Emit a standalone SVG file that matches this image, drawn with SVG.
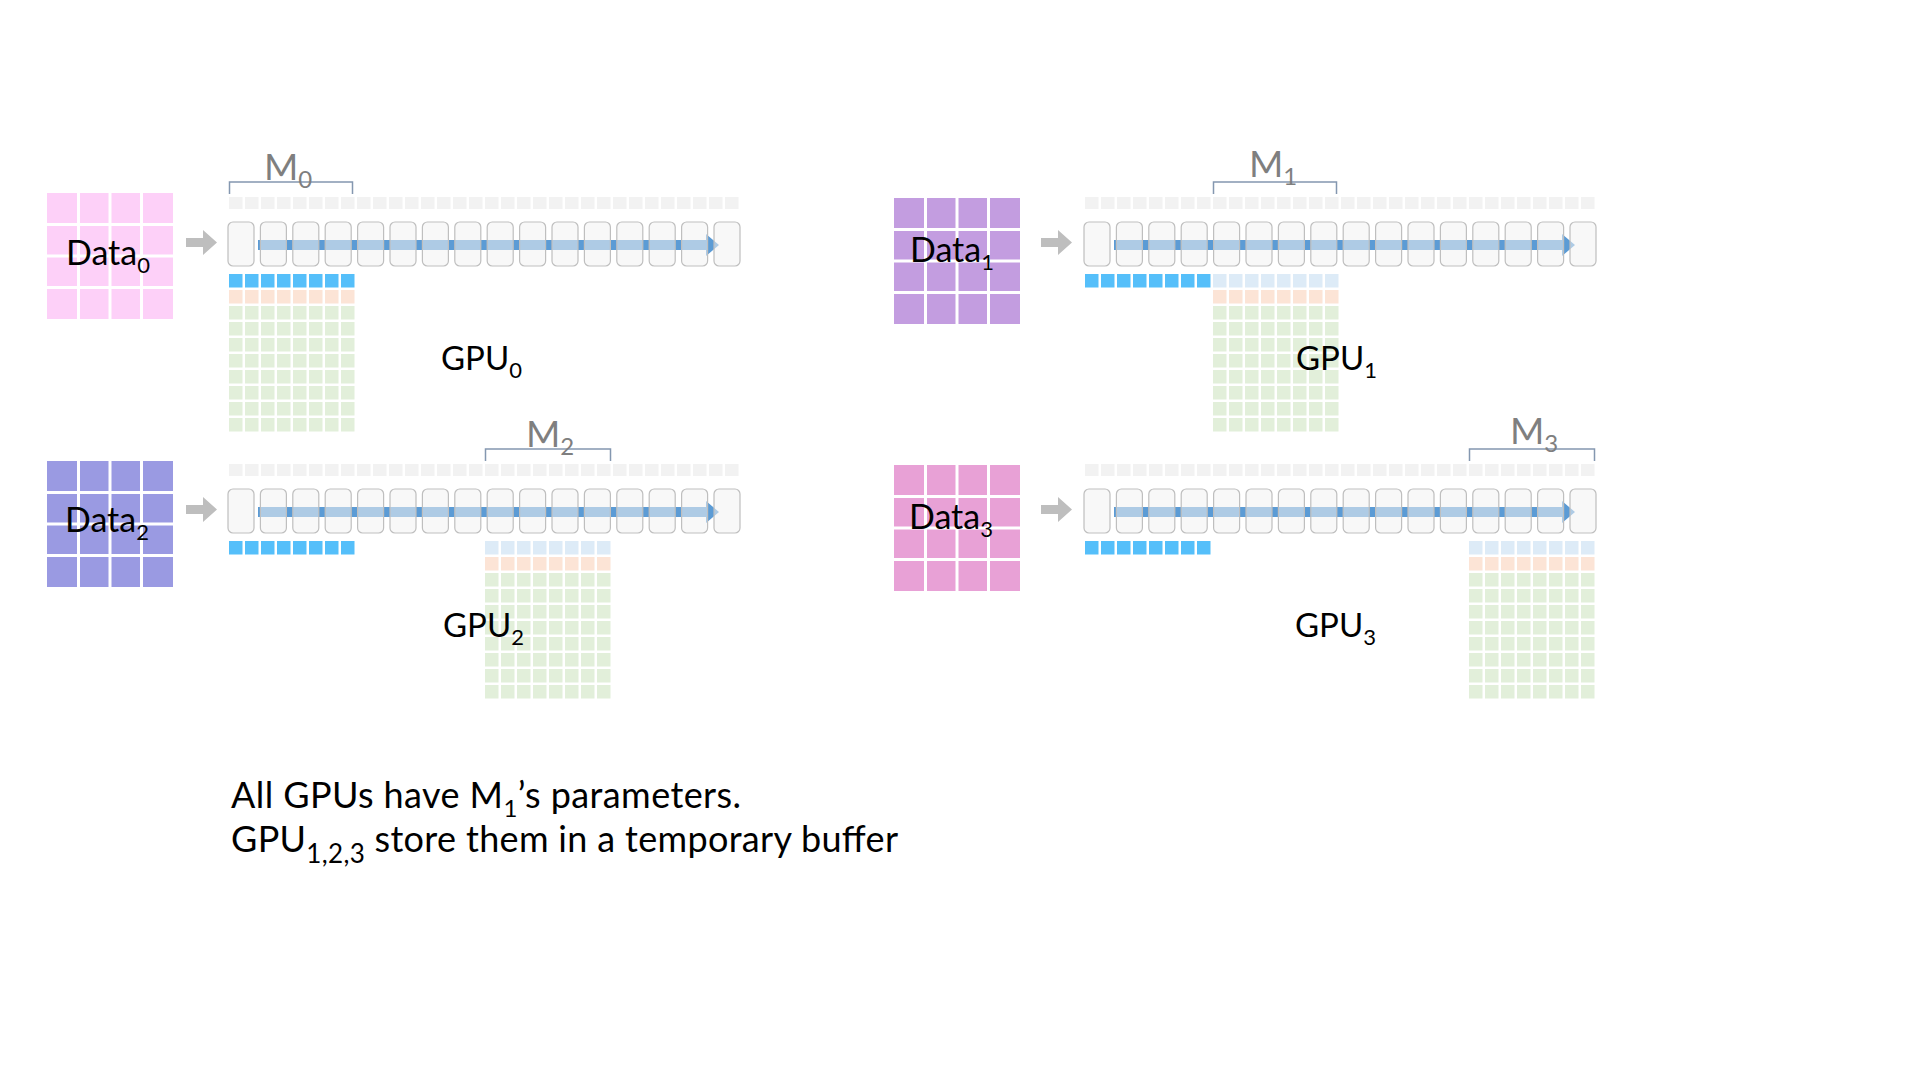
<svg xmlns="http://www.w3.org/2000/svg" width="1920" height="1080" viewBox="0 0 1920 1080">
<style>
text{font-family:Lato,"Open Sans","Liberation Sans",sans-serif;}
.lbl{font-size:34px;fill:#000;}
.gpu{font-size:33px;fill:#000;}
.m{font-size:37px;fill:#7F7F7F;}
.note{font-size:36px;fill:#000;}
.br{fill:none;stroke:#8497B0;stroke-width:1.5;}
.box{fill:#F2F2F2;fill-opacity:.55;stroke:#BFBFBF;stroke-width:1.2;}
.dl{stroke:#fff;stroke-width:3;}
</style>
<defs>
 <g id="r8">
  <rect x="0" width="13.5" height="13.5"/><rect x="16" width="13.5" height="13.5"/><rect x="32" width="13.5" height="13.5"/><rect x="48" width="13.5" height="13.5"/>
  <rect x="64" width="13.5" height="13.5"/><rect x="80" width="13.5" height="13.5"/><rect x="96" width="13.5" height="13.5"/><rect x="112" width="13.5" height="13.5"/>
 </g>
 <g id="block">
  <use href="#r8" y="0" fill="#FCE4D6"/>
  <use href="#r8" y="16" fill="#E2EFDA"/><use href="#r8" y="32" fill="#E2EFDA"/><use href="#r8" y="48" fill="#E2EFDA"/><use href="#r8" y="64" fill="#E2EFDA"/>
  <use href="#r8" y="80" fill="#E2EFDA"/><use href="#r8" y="96" fill="#E2EFDA"/><use href="#r8" y="112" fill="#E2EFDA"/><use href="#r8" y="128" fill="#E2EFDA"/>
 </g>
 <g id="top32" fill="#F2F2F2">
  <use href="#r8" x="0" transform="scale(1,0.889)"/><use href="#r8" x="128" transform="scale(1,0.889)"/><use href="#r8" x="256" transform="scale(1,0.889)"/><use href="#r8" x="384" transform="scale(1,0.889)"/>
 </g>
 <polygon id="flow" points="29,43 477,43 477,37 490,48 477,59 477,53 29,53" fill="#5B9BD5"/>
 <g id="layers">
  <rect class="box" x="-1" y="25" width="26" height="44" rx="5"/><rect class="box" x="31.4" y="25" width="26" height="44" rx="5"/>
  <rect class="box" x="63.8" y="25" width="26" height="44" rx="5"/><rect class="box" x="96.2" y="25" width="26" height="44" rx="5"/>
  <rect class="box" x="128.6" y="25" width="26" height="44" rx="5"/><rect class="box" x="161" y="25" width="26" height="44" rx="5"/>
  <rect class="box" x="193.4" y="25" width="26" height="44" rx="5"/><rect class="box" x="225.8" y="25" width="26" height="44" rx="5"/>
  <rect class="box" x="258.2" y="25" width="26" height="44" rx="5"/><rect class="box" x="290.6" y="25" width="26" height="44" rx="5"/>
  <rect class="box" x="323" y="25" width="26" height="44" rx="5"/><rect class="box" x="355.4" y="25" width="26" height="44" rx="5"/>
  <rect class="box" x="387.8" y="25" width="26" height="44" rx="5"/><rect class="box" x="420.2" y="25" width="26" height="44" rx="5"/>
  <rect class="box" x="452.6" y="25" width="26" height="44" rx="5"/><rect class="box" x="485" y="25" width="26" height="44" rx="5"/>
 </g>
 <g id="dlines" class="dl">
  <line x1="31.5" y1="0" x2="31.5" y2="126"/><line x1="63" y1="0" x2="63" y2="126"/><line x1="94.5" y1="0" x2="94.5" y2="126"/>
  <line x1="0" y1="31.5" x2="126" y2="31.5"/><line x1="0" y1="63" x2="126" y2="63"/><line x1="0" y1="94.5" x2="126" y2="94.5"/>
 </g>
 <polygon id="garrow" points="0,8 17,8 17,0 31,12.5 17,25 17,17 0,17" fill="#BEBEBE"/>
</defs>
<rect width="1920" height="1080" fill="#fff"/>

<g id="data0">
 <rect x="47" y="193" width="126" height="126" fill="#FDD0F8"/>
 <use href="#dlines" x="47" y="193"/>
 <text class="lbl" x="66" y="265">Data<tspan dy="8" font-size="22">0</tspan></text>
</g>
<g id="data1">
 <rect x="894" y="198" width="126" height="126" fill="#C39DE0"/>
 <use href="#dlines" x="894" y="198"/>
 <text class="lbl" x="910" y="262">Data<tspan dy="8" font-size="22">1</tspan></text>
</g>
<g id="data2">
 <rect x="47" y="461" width="126" height="126" fill="#9A9AE2"/>
 <use href="#dlines" x="47" y="461"/>
 <text class="lbl" x="65" y="532">Data<tspan dy="8" font-size="22">2</tspan></text>
</g>
<g id="data3">
 <rect x="894" y="465" width="126" height="126" fill="#E8A1D6"/>
 <use href="#dlines" x="894" y="465"/>
 <text class="lbl" x="909" y="529">Data<tspan dy="8" font-size="22">3</tspan></text>
</g>

<g id="gpu0" transform="translate(229,197)">
 <use href="#top32"/>
 <use href="#flow"/>
 <use href="#layers"/>
 <use href="#r8" y="77" fill="#55BFFA"/>
 <use href="#block" y="93"/>
 <path class="br" d="M0.5,-3 V-15 H123.5 V-3"/>
 <text class="m" x="35" y="-17">M<tspan dy="8" font-size="24">0</tspan></text>
 <text class="gpu" x="212" y="173">GPU<tspan dy="8" font-size="22">0</tspan></text>
</g>
<g id="gpu1" transform="translate(1085,197)">
 <use href="#top32"/>
 <use href="#flow"/>
 <use href="#layers"/>
 <use href="#r8" y="77" fill="#55BFFA"/>
 <use href="#r8" x="128" y="77" fill="#DDEBF7"/>
 <use href="#block" x="128" y="93"/>
 <path class="br" d="M128.5,-3 V-15 H251.5 V-3"/>
 <text class="m" x="164" y="-20">M<tspan dy="8" font-size="24">1</tspan></text>
 <text class="gpu" x="211" y="173">GPU<tspan dy="8" font-size="22">1</tspan></text>
</g>
<g id="gpu2" transform="translate(229,464)">
 <use href="#top32"/>
 <use href="#flow"/>
 <use href="#layers"/>
 <use href="#r8" y="77" fill="#55BFFA"/>
 <use href="#r8" x="256" y="77" fill="#DDEBF7"/>
 <use href="#block" x="256" y="93"/>
 <path class="br" d="M256.5,-3 V-15 H381.5 V-3"/>
 <text class="m" x="297" y="-17">M<tspan dy="8" font-size="24">2</tspan></text>
 <text class="gpu" x="214" y="173">GPU<tspan dy="8" font-size="22">2</tspan></text>
</g>
<g id="gpu3" transform="translate(1085,464)">
 <use href="#top32"/>
 <use href="#flow"/>
 <use href="#layers"/>
 <use href="#r8" y="77" fill="#55BFFA"/>
 <use href="#r8" x="384" y="77" fill="#DDEBF7"/>
 <use href="#block" x="384" y="93"/>
 <path class="br" d="M384.5,-3 V-15 H509.5 V-3"/>
 <text class="m" x="425" y="-20">M<tspan dy="8" font-size="24">3</tspan></text>
 <text class="gpu" x="210" y="173">GPU<tspan dy="8" font-size="22">3</tspan></text>
</g>

<g id="connectors">
 <use href="#garrow" x="186" y="230"/>
 <use href="#garrow" x="1041" y="230"/>
 <use href="#garrow" x="186" y="497"/>
 <use href="#garrow" x="1041" y="497"/>
</g>

<g id="note">
 <text class="note" x="231" y="808" textLength="510" lengthAdjust="spacing">All GPUs have M<tspan dy="9" font-size="24">1</tspan><tspan dy="-9">’s parameters.</tspan></text>
 <text class="note" x="231" y="852" textLength="667" lengthAdjust="spacing">GPU<tspan dy="11" font-size="26">1,2,3</tspan><tspan dy="-11"> store them in a temporary buffer</tspan></text>
</g>
</svg>
